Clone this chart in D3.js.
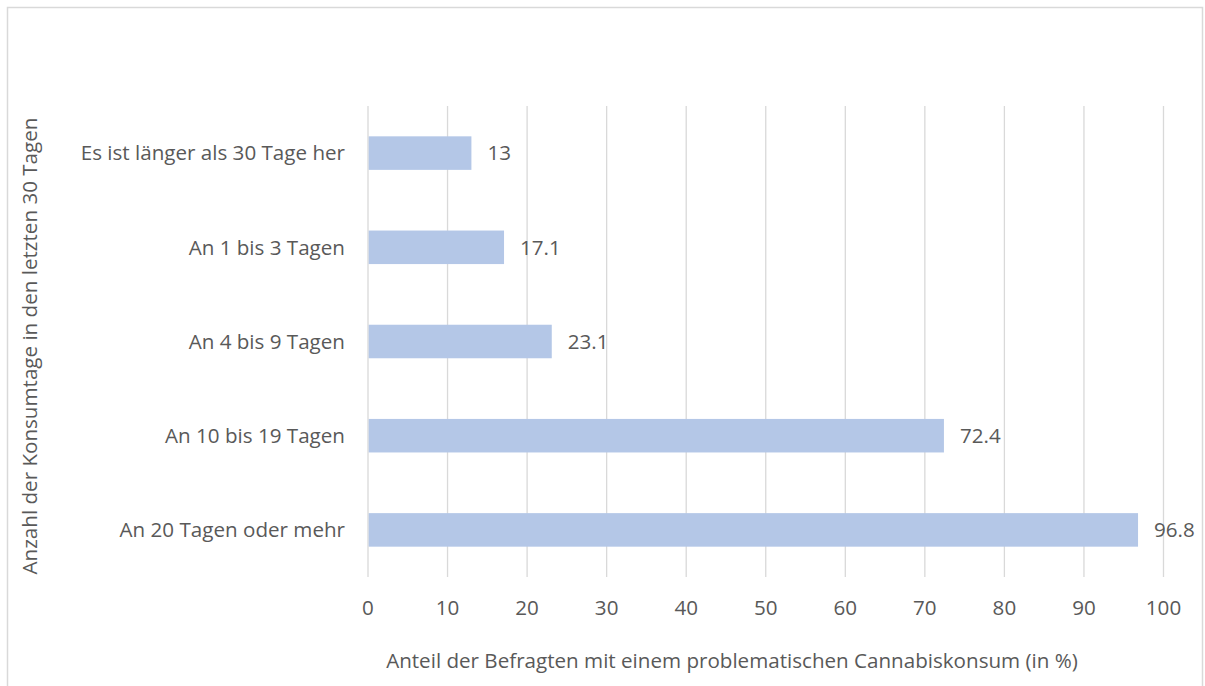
<!DOCTYPE html>
<html><head><meta charset="utf-8">
<script src="https://cdn.jsdelivr.net/npm/d3@7"></script>
<style>body{margin:0;background:#fff;} text{font-family:"Open Sans",sans-serif;fill:#595959;}</style>
</head><body>
<script>
const categories = ["Es ist länger als 30 Tage her","An 1 bis 3 Tagen","An 4 bis 9 Tagen","An 10 bis 19 Tagen","An 20 Tagen oder mehr"];
const values = [13, 17.1, 23.1, 72.4, 96.8];
const xTicks = [0,10,20,30,40,50,60,70,80,90,100];
const xTitle = "Anteil der Befragten mit einem problematischen Cannabiskonsum (in %)";
const yTitle = "Anzahl der Konsumtage in den letzten 30 Tagen";

(function(){
const W = 1205, H = 686, fs = 20.6;
const svg = d3.select("body").append("svg").attr("width", W).attr("height", H);
svg.append("rect").attr("x",7.5).attr("y",7.5).attr("width",1195).attr("height",700)
  .attr("fill","none").attr("stroke","#d9d9d9").attr("stroke-width",1.5);

const pL = 368, pR = 1163.5, pT = 106, pB = 577;
const x = d3.scaleLinear().domain([0,100]).range([pL,pR]);
const p = 0.644;
const y = d3.scaleBand().domain(categories).range([pT,pB]).paddingInner(p).paddingOuter(p/2);

svg.append("g").selectAll("line").data(xTicks).join("line")
  .attr("x1",d=>x(d)).attr("x2",d=>x(d)).attr("y1",pT).attr("y2",pB)
  .attr("stroke","#d9d9d9").attr("stroke-width",1.3);

svg.append("g").selectAll("rect").data(values).join("rect")
  .attr("x",x(0)+0.7).attr("y",(d,i)=>y(categories[i]))
  .attr("width",d=>x(d)-x(0)-0.7).attr("height",y.bandwidth())
  .attr("fill","#b4c7e7");

svg.append("g").selectAll("text").data(values).join("text")
  .attr("x",d=>x(d)+16).attr("y",(d,i)=>y(categories[i])+y.bandwidth()/2)
  .attr("dy","0.35em").attr("font-size",fs).text(d=>d);

svg.append("g").selectAll("text").data(categories).join("text")
  .attr("x",pL-23).attr("y",d=>y(d)+y.bandwidth()/2).attr("dy","0.35em")
  .attr("text-anchor","end").attr("font-size",fs).text(d=>d);

svg.append("g").selectAll("text").data(xTicks).join("text")
  .attr("x",d=>x(d)).attr("y",608).attr("dy","0.35em")
  .attr("text-anchor","middle").attr("font-size",fs).text(d=>d);

svg.append("text").attr("x",732).attr("y",661).attr("dy","0.35em")
  .attr("text-anchor","middle").attr("font-size",fs).text(xTitle);

svg.append("text").attr("transform",`translate(30,346) rotate(-90)`)
  .attr("dy","0.35em").attr("text-anchor","middle").attr("font-size",fs).text(yTitle);
})();
</script>
</body></html>
